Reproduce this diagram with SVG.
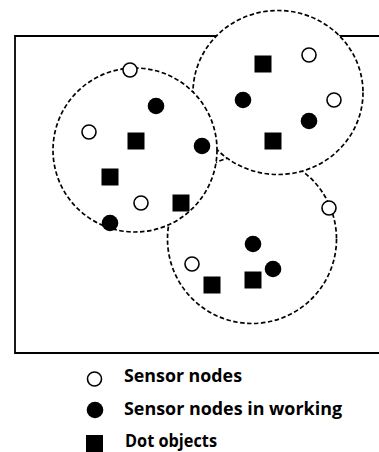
<svg xmlns="http://www.w3.org/2000/svg" width="379" height="452" viewBox="0 0 379 452">
<style>
.zone{fill:#fff;stroke:#000;stroke-width:1.7;stroke-dasharray:4.5 2.5}
.sn{fill:#fff;stroke:#000;stroke-width:1.6}
.sw{fill:#000}
.dot{fill:#000}
.lbl{font-family:"Open Sans","Liberation Sans",sans-serif;font-weight:bold;font-size:17.5px;fill:#000}
</style>
<defs>
<circle id="o" r="7" class="sn"/>
<circle id="f" r="8.3" class="sw"/>
<rect id="s" x="-8.5" y="-8.5" width="17" height="17" class="dot"/>
</defs>
<g id="field">
<path d="M385 36 H15 V353 H385" fill="none" stroke="#000" stroke-width="1.8"/>
</g>
<g id="zones">
<circle id="zone-bottom" cx="252" cy="239" r="84.5" class="zone"/>
<ellipse id="zone-topright" cx="278" cy="92.5" rx="85" ry="82" class="zone"/>
<circle id="zone-left" cx="135" cy="150" r="82" class="zone"/>
</g>
<g id="sensor-nodes">
<use href="#o" x="130" y="70"/>
<use href="#o" x="89" y="132"/>
<use href="#o" x="141" y="203"/>
<use href="#o" x="309" y="55"/>
<use href="#o" x="334" y="100"/>
<use href="#o" x="329" y="208"/>
<use href="#o" x="192" y="264"/>
</g>
<g id="working-nodes">
<use href="#f" x="156" y="106"/>
<use href="#f" x="202" y="146"/>
<use href="#f" x="110" y="223"/>
<use href="#f" x="243" y="100"/>
<use href="#f" x="309" y="121"/>
<use href="#f" x="253" y="244"/>
<use href="#f" x="273" y="269"/>
</g>
<g id="dot-objects">
<use href="#s" x="136" y="141"/>
<use href="#s" x="110" y="177"/>
<use href="#s" x="181" y="203"/>
<use href="#s" x="263" y="64"/>
<use href="#s" x="273" y="141"/>
<use href="#s" x="212" y="285"/>
<use href="#s" x="253" y="280"/>
</g>
<g id="legend">
<use href="#o" x="94.5" y="379"/>
<text class="lbl" x="124" y="382" textLength="118" lengthAdjust="spacingAndGlyphs">Sensor nodes</text>
<use href="#f" x="95" y="410"/>
<text class="lbl" x="124" y="415" textLength="218" lengthAdjust="spacingAndGlyphs">Sensor nodes in working</text>
<use href="#s" x="94.5" y="443.5"/>
<text class="lbl" x="125" y="447" textLength="92" lengthAdjust="spacingAndGlyphs">Dot objects</text>
</g>
</svg>
